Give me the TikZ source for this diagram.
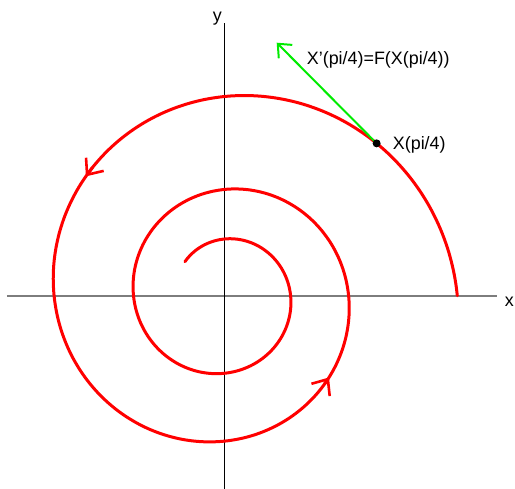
\documentclass[tikz,border=0pt]{standalone}
\usepackage{fontspec}
\setmainfont{Liberation Sans}
\usetikzlibrary{arrows.meta}
\definecolor{spiralred}{RGB}{255,0,0}
\definecolor{vecgreen}{RGB}{0,235,0}
\definecolor{axisgray}{RGB}{125,125,125}
\begin{document}
\begin{tikzpicture}[x=1pt,y=1pt,
  lbl/.style={font=\fontsize{17.9}{20}\selectfont, inner sep=0pt},
  spiral/.style={draw=spiralred, line width=3pt},
  barb/.style={-{Straight Barb[length=13pt,width=22pt,line width=2.6pt]}, spiralred, line width=3pt}]
\useasboundingbox (-224.3,-193.3) rectangle (290.7,295.7);
% axes
\coordinate (xl) at (-217.3,0);
\coordinate (xr) at (272.7,0);
\coordinate (yt) at (0,272.7);
\coordinate (yb) at (0,-193.3);
\draw[axisgray, line width=1.8pt] (xl) -- (xr);
\draw[black, line width=1pt] (yb) -- (yt);
\node[lbl, anchor=base] (ylab) at (-7,274) {y};
\node[lbl, anchor=base] (xlab) at (285,-11) {x};
% spiral X(t) = 233 e^{-t/10} (cos t, sin t)
\draw[spiral, line cap=round] plot[variable=\t, domain=0:15, samples=400, smooth]
  ({233*exp(-0.1*\t)*cos(\t r)}, {233*exp(-0.1*\t)*sin(\t r)});
% direction arrows
\foreach \tt in {2.43,5.62}{
  \coordinate (a) at ({233*exp(-0.1*(\tt-0.06))*cos((\tt-0.06) r)}, {233*exp(-0.1*(\tt-0.06))*sin((\tt-0.06) r)});
  \coordinate (b) at ({233*exp(-0.1*\tt)*cos(\tt r)}, {233*exp(-0.1*\tt)*sin(\tt r)});
  \draw[barb] (a) -- (b);
}
% point X(pi/4) and vector
\coordinate (P) at ({233*exp(-0.1*pi/4)*cos(45)}, {233*exp(-0.1*pi/4)*sin(45)});
\coordinate (V) at (52.4,253);
\draw[vecgreen, line width=2pt, -{Straight Barb[length=11pt,width=19pt,line width=2pt]}] (P) -- (V);
\fill[black] (P) circle (4);
\node[lbl, anchor=base west] (vlab) at (82.4,230.7) {X'(pi/4)=F(X(pi/4))};
\node[lbl, anchor=base west] (plab) at (168.4,146.4) {X(pi/4)};
\end{tikzpicture}
\end{document}
